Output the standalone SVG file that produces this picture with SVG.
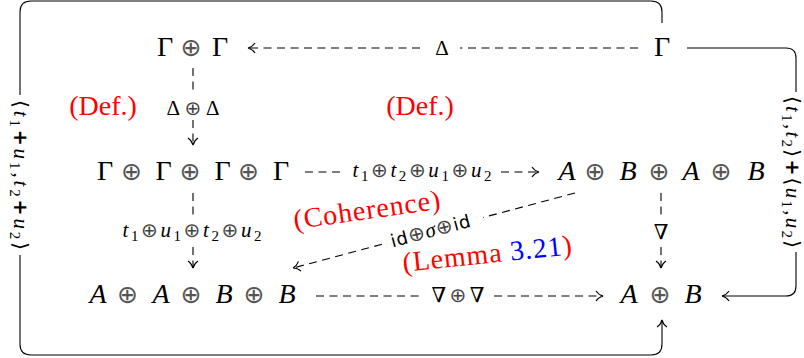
<svg xmlns="http://www.w3.org/2000/svg" width="804" height="358" viewBox="0 0 804 358">
<defs>
<style>
.n { font-family: "Liberation Serif", "DejaVu Serif", serif; font-size: 28px; fill: #000; text-anchor: middle; }
.n .o { font-family: "DejaVu Sans", sans-serif; font-size: 25px; fill: #555; }
.mi { font-style: italic; }
.l { font-family: "Liberation Serif", "DejaVu Serif", serif; font-size: 21px; fill: #000; }
.l .o { font-family: "DejaVu Sans", sans-serif; font-size: 20px; fill: #444; }
.sb { font-size: 15px; }
.sf { font-family: "DejaVu Sans", "Liberation Sans", sans-serif; font-size: 18px; }
.bp { font-family: "DejaVu Sans", sans-serif; font-weight: bold; font-size: 19px; }
.ang { font-family: "DejaVu Sans", sans-serif; font-size: 20px; }
.red { font-family: "Liberation Serif", "DejaVu Serif", serif; font-size: 28px; fill: #ff0000; }
.blue { fill: #0000ff; }
.c { fill: none; stroke: #000; stroke-width: 1.1; }
.d { stroke-dasharray: 8 5.5; }
.a { marker-end: url(#to); }
</style>
<marker id="to" viewBox="-8 -6 9 12" refX="0" refY="0" markerWidth="9" markerHeight="12" markerUnits="userSpaceOnUse" orient="auto">
<path d="M-7,-5 C-5,-2 -2,-0.5 0,0 C-2,0.5 -5,2 -7,5" fill="none" stroke="#000" stroke-width="1.1" stroke-dasharray="none"/>
</marker>
</defs>
<rect width="804" height="358" fill="#fff"/>

<g id="connectors">
<path class="c d" d="M638,48 H460"/>
<path class="c d a" d="M420,48 H248"/>
<path class="c d" d="M193,68 V95"/>
<path class="c d a" d="M193,120 V145"/>
<path class="c d" d="M305,172 H344"/>
<path class="c d a" d="M501,172 H539"/>
<path class="c d" d="M193,193 V216"/>
<path class="c d a" d="M193,247 V268"/>
<path class="c d" d="M575,193 L483,217.5"/>
<path class="c d a" d="M382,244.3 L293,268"/>
<path class="c d" d="M661,193 V218"/>
<path class="c d a" d="M661,247 V268"/>
<path class="c d" d="M316,296 H424"/>
<path class="c d a" d="M494,296 H603"/>
<path class="c" d="M662,23 V12 Q662,1 651,1 H31 Q20,1 20,12 V95"/>
<path class="c a" d="M20,255 V344 Q20,355 31,355 H651 Q662,355 662,344 V320"/>
<path class="c" d="M687,48 H786 Q796,48 796,58 V92"/>
<path class="c a" d="M796,252 V286 Q796,296 786,296 H722"/>

<text class="l" x="442" y="55" text-anchor="middle">Δ</text>
<text class="l" x="193" y="115" text-anchor="middle" textLength="53">Δ<tspan class="o">⊕</tspan>Δ</text>
<text class="l" x="422" y="177" text-anchor="middle" textLength="139"><tspan class="mi">t</tspan><tspan class="sb" dy="4">1</tspan><tspan class="o" dy="-4">⊕</tspan><tspan class="mi">t</tspan><tspan class="sb" dy="4">2</tspan><tspan class="o" dy="-4">⊕</tspan><tspan class="mi">u</tspan><tspan class="sb" dy="4">1</tspan><tspan class="o" dy="-4">⊕</tspan><tspan class="mi">u</tspan><tspan class="sb" dy="4">2</tspan></text>
<text class="l" x="192" y="237" text-anchor="middle" textLength="139"><tspan class="mi">t</tspan><tspan class="sb" dy="4">1</tspan><tspan class="o" dy="-4">⊕</tspan><tspan class="mi">u</tspan><tspan class="sb" dy="4">1</tspan><tspan class="o" dy="-4">⊕</tspan><tspan class="mi">t</tspan><tspan class="sb" dy="4">2</tspan><tspan class="o" dy="-4">⊕</tspan><tspan class="mi">u</tspan><tspan class="sb" dy="4">2</tspan></text>
<text class="l" x="661" y="239" text-anchor="middle">∇</text>
<text class="l" x="458" y="302" text-anchor="middle" textLength="53">∇<tspan class="o">⊕</tspan>∇</text>
<text class="l" text-anchor="middle" textLength="82" transform="translate(432,237) rotate(-14.9)"><tspan class="sf">id</tspan><tspan class="o">⊕</tspan><tspan class="mi">σ</tspan><tspan class="o">⊕</tspan><tspan class="sf">id</tspan></text>
<text class="l" text-anchor="middle" textLength="150" transform="translate(20,175) rotate(90) translate(0,6)"><tspan class="ang">⟨</tspan><tspan class="mi">t</tspan><tspan class="sb" dy="4">1</tspan><tspan class="bp" dy="-4">+</tspan><tspan class="mi">u</tspan><tspan class="sb" dy="4">1</tspan><tspan dy="-4">,</tspan><tspan class="mi">t</tspan><tspan class="sb" dy="4">2</tspan><tspan class="bp" dy="-4">+</tspan><tspan class="mi">u</tspan><tspan class="sb" dy="4">2</tspan><tspan class="ang" dy="-4">⟩</tspan></text>
<text class="l" text-anchor="middle" textLength="152" transform="translate(791,172) rotate(90) translate(0,5)"><tspan class="ang">⟨</tspan><tspan class="mi">t</tspan><tspan class="sb" dy="4">1</tspan><tspan dy="-4">,</tspan><tspan class="mi">t</tspan><tspan class="sb" dy="4">2</tspan><tspan class="ang" dy="-4">⟩</tspan><tspan class="bp">+</tspan><tspan class="ang">⟨</tspan><tspan class="mi">u</tspan><tspan class="sb" dy="4">1</tspan><tspan dy="-4">,</tspan><tspan class="mi">u</tspan><tspan class="sb" dy="4">2</tspan><tspan class="ang" dy="-4">⟩</tspan></text>
</g>

<g id="annotations">
<text class="red" x="103" y="115" text-anchor="middle">(Def.)</text>
<text class="red" x="420" y="115" text-anchor="middle">(Def.)</text>
<text class="red" text-anchor="middle" textLength="148" transform="translate(368,219) rotate(-8)">(Coherence)</text>
<text class="red" text-anchor="middle" textLength="170" transform="translate(488,263) rotate(-6)">(Lemma <tspan class="blue">3.21</tspan>)</text>
</g>

<g id="n-GG"><text class="n" y="56"><tspan x="165">Γ</tspan><tspan class="o" x="191">⊕</tspan><tspan x="220">Γ</tspan></text></g>
<g id="n-G"><text class="n" y="56" x="662">Γ</text></g>
<g id="n-GGGG"><text class="n" y="180"><tspan x="105">Γ</tspan><tspan class="o" x="131.5">⊕</tspan><tspan x="163.5">Γ</tspan><tspan class="o" x="190">⊕</tspan><tspan x="222.5">Γ</tspan><tspan class="o" x="248.5">⊕</tspan><tspan x="281">Γ</tspan></text></g>
<g id="n-ABAB"><text class="n" y="180"><tspan class="mi" x="567">A</tspan><tspan class="o" x="595">⊕</tspan><tspan class="mi" x="628">B</tspan><tspan class="o" x="659">⊕</tspan><tspan class="mi" x="691">A</tspan><tspan class="o" x="721">⊕</tspan><tspan class="mi" x="756">B</tspan></text></g>
<g id="n-AABB"><text class="n" y="303"><tspan class="mi" x="98">A</tspan><tspan class="o" x="127.5">⊕</tspan><tspan class="mi" x="161">A</tspan><tspan class="o" x="191">⊕</tspan><tspan class="mi" x="224">B</tspan><tspan class="o" x="254">⊕</tspan><tspan class="mi" x="287">B</tspan></text></g>
<g id="n-AB"><text class="n" y="303"><tspan class="mi" x="629">A</tspan><tspan class="o" x="660">⊕</tspan><tspan class="mi" x="693">B</tspan></text></g>
</svg>
